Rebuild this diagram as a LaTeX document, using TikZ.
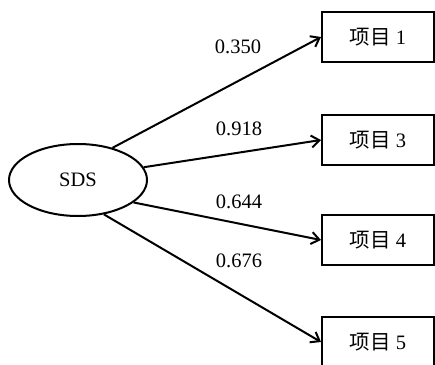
\documentclass[tikz,border=0pt]{standalone}
\usepackage{fontspec}
\setmainfont{Liberation Serif}
\newfontfamily\cjk{Noto Sans CJK SC}
\usetikzlibrary{arrows.meta,shapes.geometric}
\begin{document}
\begin{tikzpicture}[x=1pt,y=-1pt,
  every node/.style={font=\fontsize{20.5}{24}\selectfont},
  itembox/.style={draw,line width=2pt,minimum width=112pt,minimum height=50pt,inner sep=0pt},
  latent/.style={draw,ellipse,line width=2pt,minimum width=138pt,minimum height=72pt,inner sep=0pt},
  arr/.style={line width=2pt,-{Straight Barb[length=8pt,width=12pt,line width=2pt]}},
  coef/.style={inner sep=0pt}]
\useasboundingbox (0,0) rectangle (435,364);
\node[latent] (sds) at (78,180) {SDS};
\node[itembox] (b1) at (378,37) {{\cjk 项目} 1};
\node[itembox] (b3) at (378,140) {{\cjk 项目} 3};
\node[itembox] (b4) at (378,240) {{\cjk 项目} 4};
\node[itembox] (b5) at (378,342) {{\cjk 项目} 5};
\draw[arr] (sds.43) -- (b1.west);
\draw[arr] (sds.11) -- (b3.west);
\draw[arr] (sds.-22) -- (b4.west);
\draw[arr] (sds.-53) -- (b5.west);
\node[coef] (l1) at (238,47) {0.350};
\node[coef] (l3) at (239,129) {0.918};
\node[coef] (l4) at (239,202) {0.644};
\node[coef] (l5) at (239,261) {0.676};
\end{tikzpicture}
\end{document}
